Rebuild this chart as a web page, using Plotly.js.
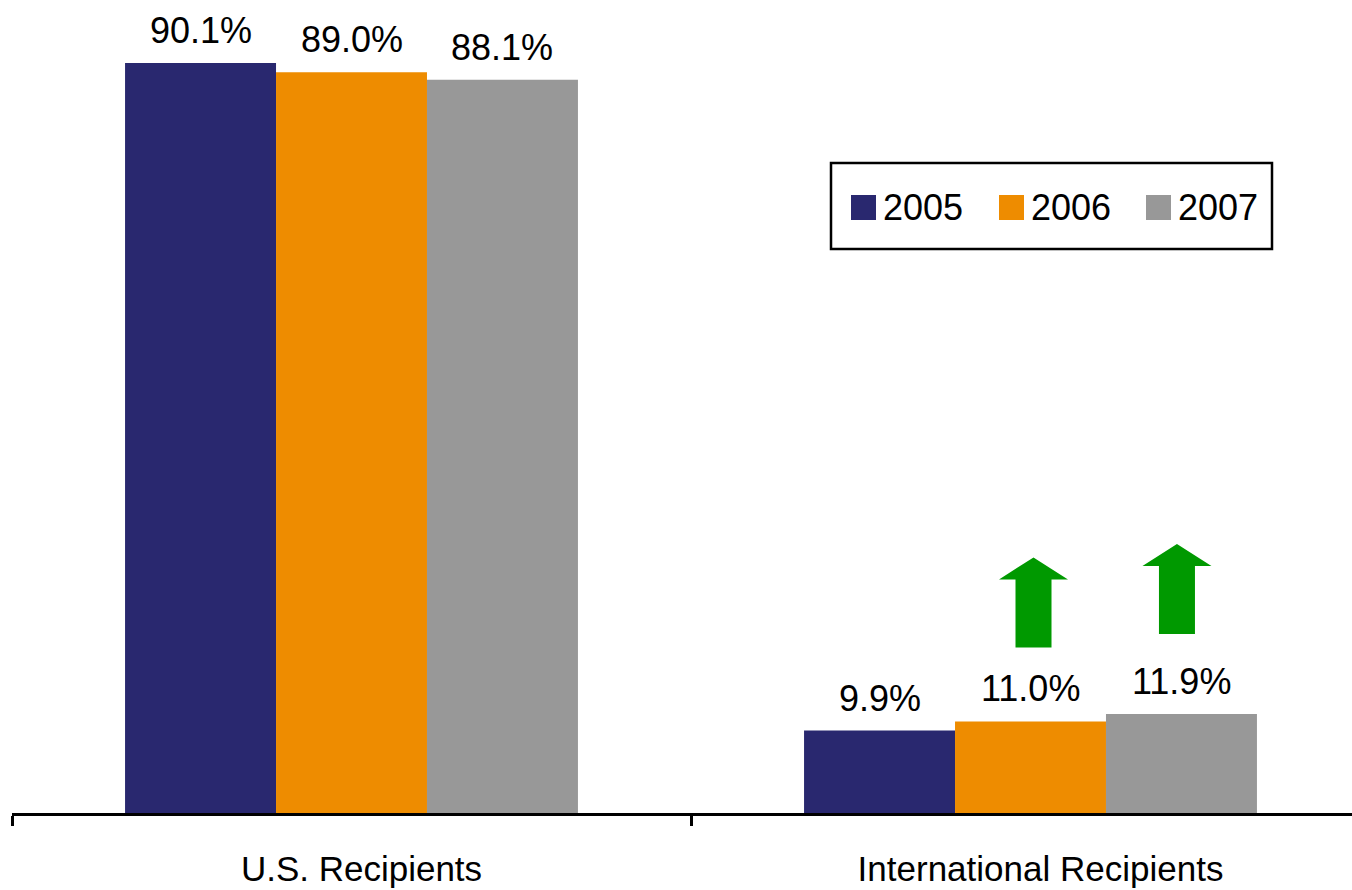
<!DOCTYPE html>
<html>
<head>
<meta charset="utf-8">
<script src="https://cdn.plot.ly/plotly-3.0.1.min.js"></script>
<style>
  html, body { margin: 0; padding: 0; background: #ffffff; overflow: hidden; }
  #chart { width: 1352px; height: 890px; }
</style>
</head>
<body>
<div id="chart"></div>
<script>
// Share of recipients by region, per year
const categories = ["U.S. Recipients", "International Recipients"];
const years = ["2005", "2006", "2007"];
const values2005 = [90.1, 9.9];
const values2006 = [89.0, 11.0];
const values2007 = [88.1, 11.9];
const yearColors = ["#29286f", "#ee8c00", "#989898"];
const arrowColor = "#009900";

const seriesValues = [values2005, values2006, values2007];

// Plot geometry (pixels)
const W = 1352, H = 890;
const M = { l: 12, r: 0, t: 0, b: 77 };
const plotW = W - M.l - M.r;
const plotH = H - M.t - M.b;
const catPx = 679;                       // pixel width of one category slot
const xMax = -0.5 + plotW / catPx;       // right end of the visible axis
const pxPerUnit = 8.324;                 // vertical scale
const yMax = plotH / pxPerUnit;

const bargap = 0.333;
const barW = (1 - bargap) / years.length;

const traces = years.map((yr, i) => ({
  type: "bar",
  name: yr,
  x: categories,
  y: seriesValues[i],
  marker: { color: yearColors[i], line: { width: 0 } },
  hoverinfo: "skip",
  showlegend: false
}));

// Value labels above each bar
const annotations = [];
years.forEach((yr, i) => {
  seriesValues[i].forEach((v, c) => {
    annotations.push({
      xref: "x", yref: "y",
      x: c + (i - (years.length - 1) / 2) * barW,
      y: v,
      text: v.toFixed(1) + "%",
      showarrow: false,
      xanchor: "center", yanchor: "bottom",
      yshift: 10,
      font: { family: "Liberation Sans, Arial, sans-serif", size: 36, color: "#000000" }
    });
  });
});

// Helpers converting pixel positions into paper fractions
const px2paperX = p => (p - M.l) / plotW;
const px2paperY = p => 1 - (p - M.t) / plotH;

const shapes = [];

// Legend box
const legend = { left: 831, right: 1272, top: 163, bottom: 249 };
shapes.push({
  type: "rect", xref: "paper", yref: "paper",
  x0: px2paperX(legend.left), x1: px2paperX(legend.right),
  y0: px2paperY(legend.bottom), y1: px2paperY(legend.top),
  line: { color: "#000000", width: 2.5 }, fillcolor: "rgba(255,255,255,0)"
});
const swatchX = [851, 999, 1146];
const swatchTop = 195, swatchSize = 25;
years.forEach((yr, i) => {
  shapes.push({
    type: "rect", xref: "paper", yref: "paper",
    x0: px2paperX(swatchX[i]), x1: px2paperX(swatchX[i] + swatchSize),
    y0: px2paperY(swatchTop + swatchSize), y1: px2paperY(swatchTop),
    line: { width: 0 }, fillcolor: yearColors[i]
  });
  annotations.push({
    xref: "paper", yref: "paper",
    x: px2paperX(swatchX[i] + swatchSize + 5),
    y: px2paperY(swatchTop + swatchSize / 2),
    text: yr, showarrow: false,
    xanchor: "left", yanchor: "middle",
    font: { family: "Liberation Sans, Arial, sans-serif", size: 36, color: "#000000" }
  });
});

// Upward growth arrows over the rising international bars
function upArrow(dx, lift) {
  const sh = 18, hh = 34.5, shaftLen = 68, total = 90;
  const b = lift;
  return `M ${dx - sh},${b} L ${dx + sh},${b} L ${dx + sh},${b + shaftLen} ` +
         `L ${dx + hh},${b + shaftLen} L ${dx},${b + total} L ${dx - hh},${b + shaftLen} ` +
         `L ${dx - sh},${b + shaftLen} Z`;
}
const arrowSpecs = [
  { series: 1, dx: 3, lift: 74 },
  { series: 2, dx: -4.5, lift: 80 }
];
arrowSpecs.forEach(a => {
  const cat = 1;
  shapes.push({
    type: "path",
    xref: "x", yref: "y",
    xsizemode: "pixel", ysizemode: "pixel",
    xanchor: cat + (a.series - (years.length - 1) / 2) * barW,
    yanchor: seriesValues[a.series][cat],
    path: upArrow(a.dx, a.lift),
    fillcolor: arrowColor,
    line: { width: 0 }
  });
});

const layout = {
  width: W, height: H,
  margin: M,
  paper_bgcolor: "#ffffff",
  plot_bgcolor: "#ffffff",
  barmode: "group",
  bargap: bargap,
  bargroupgap: 0,
  showlegend: false,
  font: { family: "Liberation Sans, Arial, sans-serif", color: "#000000" },
  xaxis: {
    type: "category",
    range: [-0.5, xMax],
    showline: true, linecolor: "#000000", linewidth: 3,
    ticks: "outside", tickson: "boundaries",
    ticklen: 10, tickwidth: 3, tickcolor: "#000000",
    tickfont: { size: 35, color: "#000000" },
    ticklabelshift: 10,
    ticklabelstandoff: 23,
    showgrid: false, zeroline: false,
    fixedrange: true
  },
  yaxis: {
    range: [0, yMax],
    visible: false,
    showgrid: false, zeroline: false,
    fixedrange: true
  },
  annotations: annotations,
  shapes: shapes
};

Plotly.newPlot("chart", traces, layout, { displayModeBar: false, staticPlot: true });
</script>
</body>
</html>
